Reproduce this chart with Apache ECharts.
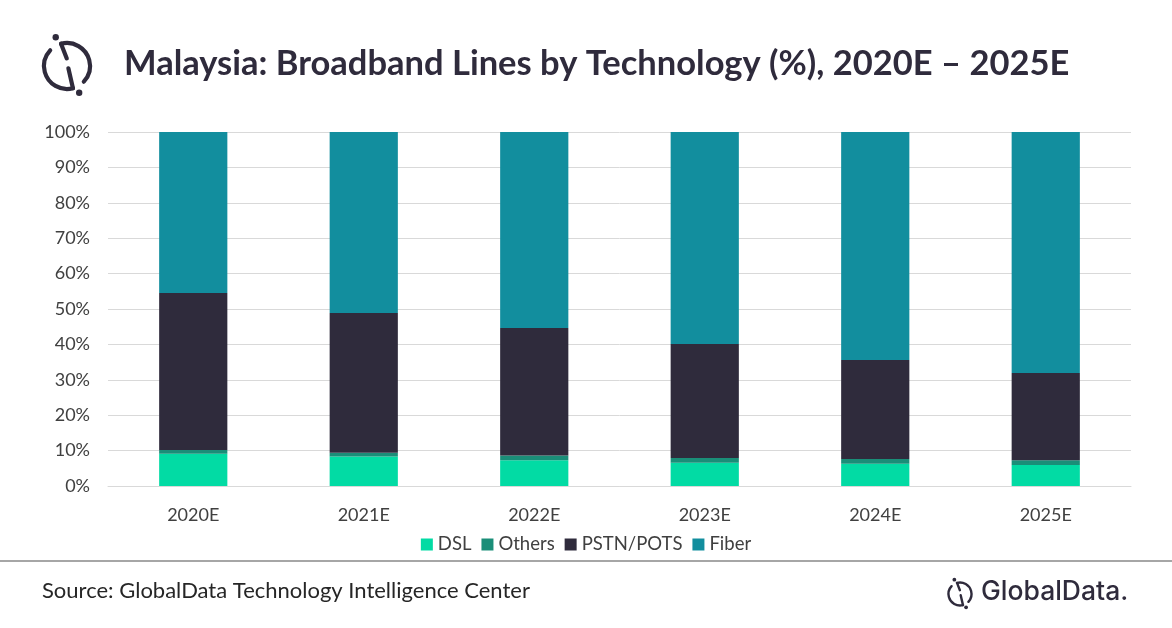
<!DOCTYPE html>
<html><head><meta charset="utf-8">
<script src="https://cdn.jsdelivr.net/npm/echarts@6/dist/echarts.min.js"></script>
<style>html,body{margin:0;padding:0;background:#fff}#c{width:1172px;height:628px}</style>
</head><body><div id="c"></div>
<script>
const categories = ['2020E','2021E','2022E','2023E','2024E','2025E'];
const dsl = [9.1, 8.3, 7.3, 6.6, 6.3, 5.9];
const others = [1.1, 1.1, 1.3, 1.3, 1.3, 1.4];
const pstn = [44.3, 39.5, 36.0, 32.2, 28.0, 24.6];
const fiber = [45.5, 51.1, 55.4, 59.9, 64.4, 68.1];

const dark = '#2F2B3C';
const font = 'Lato, "Open Sans", sans-serif';
const chart = echarts.init(document.getElementById('c'));

function logo(cx, cy, r, w, dotR) {
  const d2r = Math.PI / 180;
  const st = {stroke:dark, lineWidth:w, fill:null, lineCap:'round'};
  const p = (a) => [cx + r*Math.cos(a*d2r), cy + r*Math.sin(a*d2r)];
  const a1 = p(-105), a2 = p(75);
  return [
    {type:'arc', shape:{cx:cx, cy:cy, r:r, startAngle:-105*d2r, endAngle:43*d2r, clockwise:true}, style:st},
    {type:'arc', shape:{cx:cx, cy:cy, r:r, startAngle:75*d2r, endAngle:223*d2r, clockwise:true}, style:st},
    {type:'line', shape:{x1:a1[0], y1:a1[1], x2:cx - r*0.01, y2:cy - r*0.33}, style:st},
    {type:'line', shape:{x1:cx + r*0.06, y1:cy + r*0.1, x2:a2[0], y2:a2[1]}, style:st},
    {type:'circle', shape:{cx:cx - r*0.49, cy:cy - r*1.25, r:dotR}, style:{fill:dark}},
    {type:'circle', shape:{cx:cx + r*0.53, cy:cy + r*1.16, r:dotR}, style:{fill:dark}}
  ];
}

const graphics = [].concat(
  logo(67, 66, 23, 4.2, 3.2),
  logo(960, 594, 11.5, 2.4, 1.9),
  [
    {type:'text', left:124, top:46, style:{text:'Malaysia: Broadband Lines by Technology (%), 2020E \u2013 2025E', font:'bold 34.5px ' + font, fill:dark}},
    {type:'line', shape:{x1:0, y1:561, x2:1172, y2:561}, style:{stroke:'#A6A6A6', lineWidth:2}},
    {type:'text', left:42, top:580, style:{text:'Source: GlobalData Technology Intelligence Center', font:'22px ' + font, fill:'#262626'}},
    {type:'text', left:981, top:579, style:{text:'GlobalData.', font:'500 26.5px Inter, Roboto, sans-serif', fill:dark}}
  ]
);

function mk(name, data, color) {
  return {name:name, type:'bar', stack:'t', data:data, barWidth:'40%', itemStyle:{color:color}, emphasis:{disabled:true}};
}

chart.setOption({
  animation:false,
  backgroundColor:'#fff',
  grid:{left:108, right:41, top:132, bottom:142, containLabel:false},
  legend:{bottom:69, left:'center', itemWidth:12, itemHeight:12, itemGap:10, icon:'rect',
    textStyle:{fontFamily:font, fontSize:18.5, color:'#404040'},
    data:['DSL','Others','PSTN/POTS','Fiber']},
  xAxis:{type:'category', data:categories,
    axisLine:{show:true, lineStyle:{color:'#D9D9D9'}}, axisTick:{show:false},
    axisLabel:{fontFamily:font, fontSize:18, color:'#404040', margin:20}},
  yAxis:{type:'value', min:0, max:100, interval:10,
    axisLabel:{formatter:'{value}%', fontFamily:font, fontSize:18, color:'#404040', margin:18},
    splitLine:{lineStyle:{color:'#D9D9D9', width:1}}, axisLine:{show:false}, axisTick:{show:false}},
  series:[
    mk('DSL', dsl, '#02DBA4'),
    mk('Others', others, '#1A8E78'),
    mk('PSTN/POTS', pstn, '#2F2B3C'),
    mk('Fiber', fiber, '#128E9E')
  ],
  graphic:graphics
});
</script></body></html>
